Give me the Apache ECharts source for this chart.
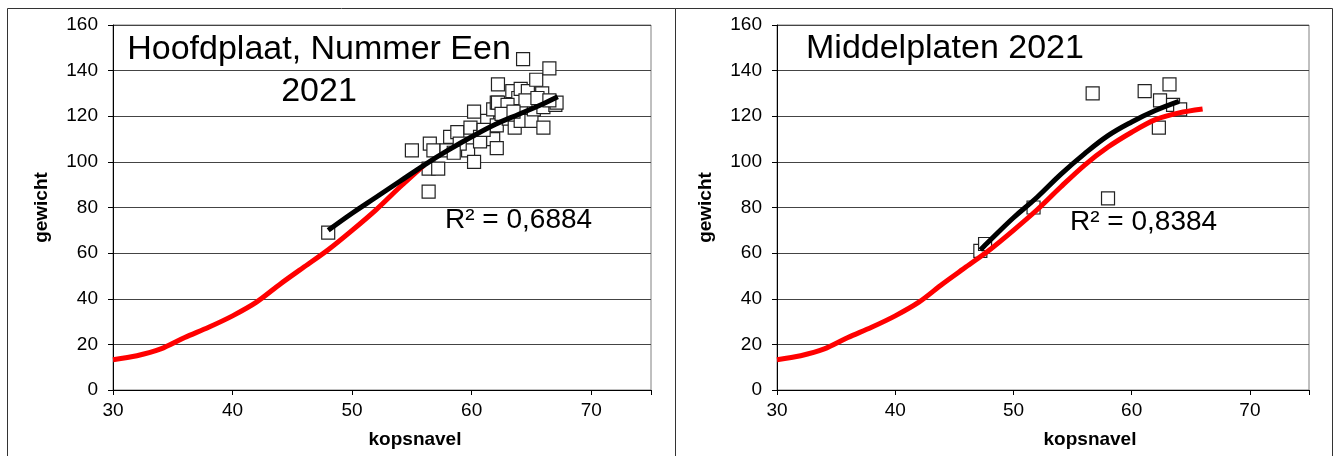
<!DOCTYPE html>
<html>
<head>
<meta charset="utf-8">
<script src="https://cdn.jsdelivr.net/npm/echarts@6/dist/echarts.min.js"></script>
<style>
    html, body { margin: 0; padding: 0; background: #fff; }
    #chart { width: 1336px; height: 456px; }
</style>
</head>
<body>
<div id="chart"></div>
<script>
    // reference curve (red), same in both panels
    const refX = [30, 32, 34, 36, 38, 40, 42, 44, 46, 48, 50, 52, 54, 56, 58, 60, 62, 64, 66];
    const refY = [13.3, 15, 18, 23, 27.5, 32.5, 38.5, 46.5, 54, 61.5, 70, 79, 89, 98.5, 106.5, 113, 118.5, 121.5, 123.2];
    // on the left panel the red curve is hidden behind the points after this
    const refLeftEnd = 56;

    // trend lines (black)
    const trendLeftX = [48, 50, 52, 54, 56, 58, 60, 62, 64, 66, 67.2];
    const trendLeftY = [70, 77.5, 84.5, 91.5, 98.5, 105, 111, 116.5, 121, 125.5, 128.5];
    const trendRightX = [47.2, 48, 50, 52, 54, 56, 58, 60, 62, 64];
    const trendRightY = [61.4, 65.5, 75.5, 84.5, 94.5, 103.5, 111.5, 117.5, 122.5, 126.5];

    // measured birds: [kopsnavel, gewicht]
    const pointsLeft = [
        [48.0, 69], [55.0, 105], [56.4, 87], [56.4, 97], [57.2, 97], [56.5, 108], [56.8, 105],
        [57.9, 105], [58.2, 111], [58.8, 113], [59.7, 105], [59.9, 115], [60.2, 100], [60.2, 122],
        [60.7, 111], [60.7, 109], [61.3, 118], [61.8, 110], [61.8, 123], [62.1, 106], [62.1, 116],
        [62.1, 126], [62.2, 134], [62.2, 126], [63.1, 119], [63.4, 131], [63.6, 115], [63.9, 128],
        [64.1, 132], [64.1, 118], [64.3, 145], [64.7, 131], [65.0, 118], [65.2, 123], [65.4, 136],
        [65.9, 130], [66.0, 115], [66.0, 124], [66.5, 141], [67.0, 125], [67.1, 126], [63.0, 125],
        [64.5, 127], [65.5, 128], [61.0, 114], [59.0, 108], [62.5, 121], [63.5, 122], [66.5, 127],
        [58.5, 104]
    ];
    const pointsRight = [
        [47.2, 61], [47.6, 64], [51.7, 80], [56.7, 130], [58.0, 84], [61.1, 131],
        [62.3, 115], [62.4, 127], [63.2, 134], [63.5, 125], [64.1, 123]
    ];

    const panelTitles = ['Hoofdplaat, Nummer Een\n2021', 'Middelplaten 2021'];
    const r2Labels = ['R² = 0,6884', 'R² = 0,8384'];
    const xName = 'kopsnavel';
    const yName = 'gewicht';

    const zip = (xs, ys) => xs.map((x, i) => [x, ys[i]]);
    const font = '"Liberation Sans", Arial, sans-serif';

    const makeX = (idx) => ({
        type: 'value', gridIndex: idx, min: 30, max: 75, interval: 10,
        axisLine: { show: true, lineStyle: { color: '#000', width: 1 } },
        axisTick: { show: true, length: 5, lineStyle: { color: '#000' } },
        axisLabel: { fontFamily: font, fontSize: 19, color: '#000', margin: 11,
            formatter: v => v === 75 ? '' : v },
        splitLine: { show: false }
    });
    const makeY = (idx) => ({
        type: 'value', gridIndex: idx, min: 0, max: 160, interval: 20,
        name: yName, nameLocation: 'middle', nameGap: 62,
        nameTextStyle: { fontFamily: font, fontSize: 19, fontWeight: 'bold', color: '#000' },
        axisLine: { show: true, lineStyle: { color: '#000', width: 1 } },
        axisTick: { show: true, length: 5, lineStyle: { color: '#000' } },
        axisLabel: { fontFamily: font, fontSize: 19, color: '#000', margin: 15 },
        splitLine: { show: true, lineStyle: { color: '#444', width: 1 } }
    });

    const makeSeries = (idx, refData, trendX, trendY, pts) => ([
        {
            type: 'line', xAxisIndex: idx, yAxisIndex: idx,
            data: refData, smooth: 0.3, showSymbol: false, silent: true,
            lineStyle: { color: '#ff0000', width: 5 }
        },
        {
            type: 'scatter', xAxisIndex: idx, yAxisIndex: idx,
            data: pts, symbol: 'rect', symbolSize: 13,
            itemStyle: { color: '#fff', borderColor: '#222', borderWidth: 1.2, opacity: 1 }
        },
        {
            type: 'line', xAxisIndex: idx, yAxisIndex: idx,
            data: zip(trendX, trendY), smooth: 0.4, showSymbol: false, silent: true,
            lineStyle: { color: '#000', width: 5 }
        }
    ]);

    const refAll = zip(refX, refY);
    const refLeft = refAll.filter(p => p[0] <= refLeftEnd);

    const chart = echarts.init(document.getElementById('chart'));
    chart.setOption({
        animation: false,
        backgroundColor: '#fff',
        grid: [
            { left: 113, top: 25, width: 538, height: 365, show: true, borderColor: '#808080', borderWidth: 1, backgroundColor: '#fff' },
            { left: 777, top: 25, width: 532, height: 365, show: true, borderColor: '#808080', borderWidth: 1, backgroundColor: '#fff' }
        ],
        xAxis: [makeX(0), makeX(1)],
        yAxis: [makeY(0), makeY(1)],
        series: [
            ...makeSeries(0, refLeft, trendLeftX, trendLeftY, pointsLeft),
            ...makeSeries(1, refAll, trendRightX, trendRightY, pointsRight)
        ],
        graphic: [
            { type: 'rect', shape: { x: 7.5, y: 8.5, width: 668, height: 460 }, style: { fill: 'none', stroke: '#333', lineWidth: 1 }, z: -10 },
            { type: 'rect', shape: { x: 675.5, y: 8.5, width: 657, height: 460 }, style: { fill: 'none', stroke: '#333', lineWidth: 1 }, z: -10 },
            { type: 'text', x: 319, y: 29, z: 100,
              style: { text: panelTitles[0], font: '34px ' + font, fill: '#000', align: 'center', lineHeight: 42 } },
            { type: 'text', x: 806, y: 32, z: 100,
              style: { text: panelTitles[1], font: '34px ' + font, fill: '#000', align: 'left' } },
            { type: 'text', x: 445, y: 206, z: 100,
              style: { text: r2Labels[0], font: '28px ' + font, fill: '#000' } },
            { type: 'text', x: 1070, y: 208, z: 100,
              style: { text: r2Labels[1], font: '28px ' + font, fill: '#000' } },
            { type: 'text', x: 415, y: 440, z: 100,
              style: { text: xName, font: 'bold 19px ' + font, fill: '#000', align: 'center', verticalAlign: 'middle' } },
            { type: 'text', x: 1090, y: 440, z: 100,
              style: { text: xName, font: 'bold 19px ' + font, fill: '#000', align: 'center', verticalAlign: 'middle' } }
        ]
    });
</script>
</body>
</html>
